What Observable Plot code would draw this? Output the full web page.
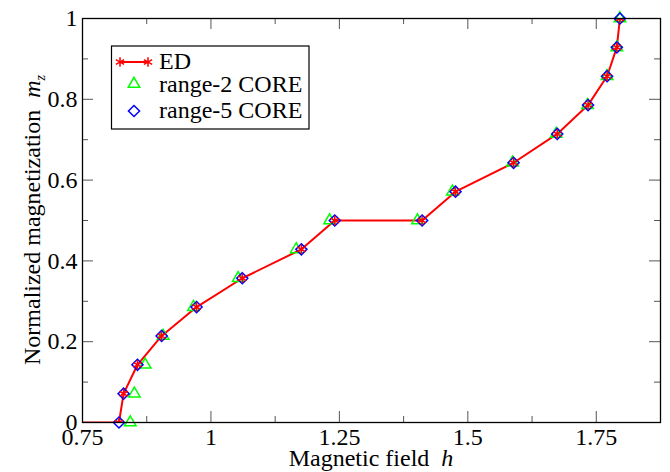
<!DOCTYPE html>
<html><head><meta charset="utf-8">
<script src="https://cdn.jsdelivr.net/npm/d3@7"></script>
<script src="https://cdn.jsdelivr.net/npm/@observablehq/plot@0.6"></script>
<style>
body{margin:0;background:#fff}
svg text{font-family:"Liberation Serif","DejaVu Serif",serif !important}
</style>
</head><body><div id="chart"></div>
<script>
// Normalized magnetization steps (m = k/14)
const magnetization = [0, 0.0714, 0.1429, 0.2143, 0.2857, 0.3571, 0.4286, 0.5, 0.5, 0.5714, 0.6429, 0.7143, 0.7857, 0.8571, 0.9286, 1];
// ED: a zero-magnetization start below the plotted range, then the steps
const edStartField = [0.0];
const edStartMag = [0];
const edField = [0.821, 0.830, 0.857, 0.904, 0.972, 1.061, 1.176, 1.241, 1.411, 1.476, 1.589, 1.674, 1.734, 1.771, 1.790, 1.796];
const range2Field = [0.843, 0.851, 0.872, 0.907, 0.966, 1.053, 1.166, 1.231, 1.402, 1.470, 1.587, 1.672, 1.733, 1.771, 1.790, 1.796];
const range5Field = [0.821, 0.830, 0.857, 0.904, 0.972, 1.061, 1.176, 1.241, 1.411, 1.476, 1.589, 1.674, 1.734, 1.771, 1.790, 1.796];
const xMajor = [0.75, 1, 1.25, 1.5, 1.75];
const xMinor = [0.875, 1.125, 1.375, 1.625];
const yMajor = [0, 0.2, 0.4, 0.6, 0.8, 1];
const yMinor = [0.1, 0.3, 0.5, 0.7, 0.9];
const xTickLabels = ["0.75", "1", "1.25", "1.5", "1.75"];
const yTickLabels = ["0", "0.2", "0.4", "0.6", "0.8", "1"];
const seriesNames = ["ED", "range-2 CORE", "range-5 CORE"];

const ed = edStartField.map((h, i) => ({h, m: edStartMag[i]}))
  .concat(edField.map((h, i) => ({h, m: magnetization[i]})));
const r2 = range2Field.map((h, i) => ({h, m: magnetization[i]}));
const r5 = range5Field.map((h, i) => ({h, m: magnetization[i]}));

const W = 670, H = 472, mL = 82, mR = 10, mT = 18, mB = 50;
const fW = W - mL - mR, fH = H - mT - mB;
const font = "'Liberation Serif', 'DejaVu Serif', serif";
const tickColor = "#555";
const majorLen = 11, minorLen = 6;

const plot = Plot.plot({
  width: W, height: H,
  marginLeft: mL, marginRight: mR, marginTop: mT, marginBottom: mB,
  style: {fontFamily: font, fontSize: "24px", background: "#fff", color: "#000"},
  x: {domain: [0.75, 1.875]},
  y: {domain: [0, 1]},
  marks: [
    Plot.axisX(xMajor, {tickSize: 0, tickPadding: 5, tickFormat: (d, i) => xTickLabels[i], label: null, fontSize: 24}),
    Plot.axisY(yMajor, {tickSize: 0, tickPadding: 5, tickFormat: (d, i) => yTickLabels[i], label: null, fontSize: 24}),
    // inward ticks on four sides
    Plot.tickX(xMajor, {x: d => d, insetTop: fH - majorLen, stroke: tickColor}),
    Plot.tickX(xMinor, {x: d => d, insetTop: fH - minorLen, stroke: tickColor}),
    Plot.tickX(xMajor, {x: d => d, insetBottom: fH - majorLen, stroke: tickColor}),
    Plot.tickX(xMinor, {x: d => d, insetBottom: fH - minorLen, stroke: tickColor}),
    Plot.tickY(yMajor, {y: d => d, insetRight: fW - majorLen, stroke: tickColor}),
    Plot.tickY(yMinor, {y: d => d, insetRight: fW - minorLen, stroke: tickColor}),
    Plot.tickY(yMajor, {y: d => d, insetLeft: fW - majorLen, stroke: tickColor}),
    Plot.tickY(yMinor, {y: d => d, insetLeft: fW - minorLen, stroke: tickColor}),
    Plot.line(ed, {x: "h", y: "m", stroke: "#ff0000", strokeWidth: 2, clip: true}),
    Plot.dot(r2, {x: "h", y: "m", symbol: "triangle2", r: 5.5, stroke: "#00ff00", strokeWidth: 1.5, fill: "none"}),
    Plot.dot(r5, {x: "h", y: "m", symbol: "diamond2", r: 5, stroke: "#0000ff", strokeWidth: 1.5, fill: "none"}),
    Plot.dot(ed, {x: "h", y: "m", symbol: "asterisk", r: 4.5, stroke: "#ff0000", strokeWidth: 1.5, clip: true}),
    Plot.frame({stroke: "#000", strokeWidth: 1.3})
  ]
});
document.getElementById("chart").appendChild(plot);

const svg = d3.select(plot);
// axis titles
const xt = svg.append("text").attr("x", mL + fW / 2).attr("y", 466)
  .attr("text-anchor", "middle").attr("font-family", font).attr("font-size", 24).attr("fill", "#000");
xt.append("tspan").text("Magnetic field\u00a0\u00a0");
xt.append("tspan").attr("font-style", "italic").text("h");

const yt = svg.append("text").attr("transform", `translate(40,${mT + fH / 2}) rotate(-90)`)
  .attr("text-anchor", "middle").attr("font-family", font).attr("font-size", 24).attr("fill", "#000");
yt.append("tspan").text("Normalized magnetization\u00a0\u00a0");
yt.append("tspan").attr("font-style", "italic").text("m");
yt.append("tspan").attr("font-style", "italic").attr("font-size", 14).attr("dy", 5).text("z");

// legend
const lg = svg.append("g");
lg.append("rect").attr("x", 111.5).attr("y", 46).attr("width", 197.5).attr("height", 83)
  .attr("fill", "#fff").attr("stroke", "#000").attr("stroke-width", 1.2);
const rows = [69, 92, 118];
const sym = (type, r) => d3.symbol(type, r * r * Math.PI)();
lg.append("line").attr("x1", 120).attr("x2", 148).attr("y1", 62).attr("y2", 62)
  .attr("stroke", "#ff0000").attr("stroke-width", 2);
[120, 148].forEach(x => lg.append("path").attr("d", sym(d3.symbolAsterisk, 4.5))
  .attr("transform", `translate(${x},62)`).attr("stroke", "#ff0000").attr("stroke-width", 1.5).attr("fill", "none"));
lg.append("path").attr("d", sym(d3.symbolTriangle2, 5.5)).attr("transform", "translate(134,84)")
  .attr("stroke", "#00ff00").attr("stroke-width", 1.5).attr("fill", "none");
lg.append("path").attr("d", sym(d3.symbolDiamond2, 5)).attr("transform", "translate(134,111)")
  .attr("stroke", "#0000ff").attr("stroke-width", 1.5).attr("fill", "none");
seriesNames.forEach((name, i) => lg.append("text").attr("x", 159).attr("y", rows[i])
  .attr("text-anchor", "start")
  .attr("font-family", font).attr("font-size", 24).attr("fill", "#000").text(name));
</script>
</body></html>
